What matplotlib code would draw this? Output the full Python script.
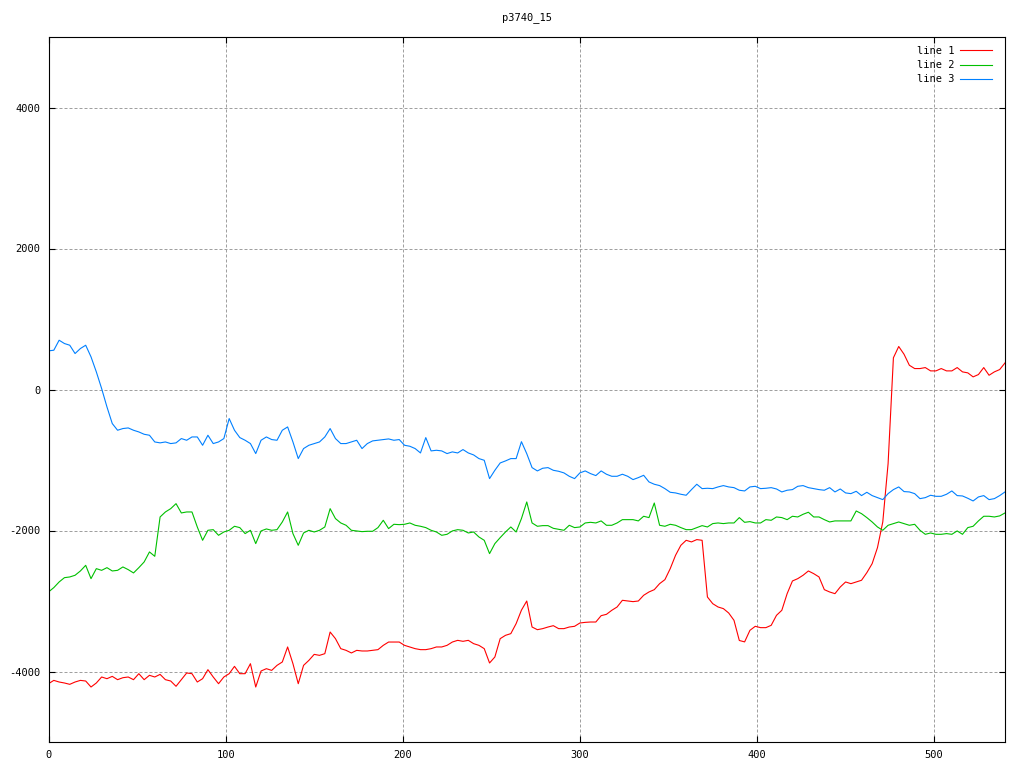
import numpy as np
import pandas as pd
import matplotlib
matplotlib.use("Agg")
from matplotlib import pyplot as plt

# sampled every 3 steps along x (0 .. 540)
x_vals = np.arange(0, 541, 3)

line1 = [-4173, -4126, -4149, -4163, -4182, -4149, -4126, -4135, -4220, -4163,
         -4078, -4102, -4069, -4116, -4088, -4078, -4116, -4031, -4116, -4054,
         -4078, -4041, -4116, -4135, -4210, -4116, -4021, -4031, -4149, -4102,
         -3974, -4078, -4173, -4078, -4031, -3927, -4031, -4031, -3889, -4220,
         -3993, -3960, -3984, -3913, -3865, -3652, -3889, -4173, -3913, -3842,
         -3757, -3771, -3747, -3440, -3534, -3676, -3700, -3737, -3700, -3709,
         -3709, -3700, -3690, -3629, -3582, -3582, -3582, -3629, -3652, -3676,
         -3690, -3690, -3676, -3652, -3652, -3629, -3582, -3558, -3572, -3558,
         -3605, -3629, -3676, -3879, -3794, -3534, -3487, -3463, -3321, -3130,
         -3000, -3369, -3407, -3392, -3369, -3350, -3392, -3392, -3369, -3359,
         -3312, -3303, -3298, -3298, -3208, -3189, -3132, -3085, -2990, -3000,
         -3009, -3000, -2919, -2872, -2839, -2754, -2697, -2541, -2352, -2210,
         -2139, -2162, -2129, -2139, -2943, -3038, -3085, -3108, -3170, -3274,
         -3560, -3580, -3416, -3359, -3378, -3378, -3345, -3203, -3132, -2896,
         -2716, -2683, -2635, -2574, -2612, -2659, -2839, -2872, -2896, -2801,
         -2730, -2754, -2730, -2706, -2598, -2470, -2243, -1879, -1051, 450,
         610, 500, 344, 297, 297, 311, 264, 264, 297, 264,
         264, 311, 250, 236, 179, 212, 311, 202, 250, 283,
         377]

line2 = [-2872, -2810, -2730, -2669, -2659, -2635, -2574, -2494, -2683, -2541,
         -2565, -2527, -2574, -2565, -2517, -2555, -2602, -2527, -2446, -2304,
         -2366, -1808, -1737, -1690, -1619, -1751, -1737, -1737, -1950, -2139,
         -1997, -1988, -2068, -2021, -1997, -1940, -1959, -2044, -1997, -2186,
         -2006, -1978, -1997, -1988, -1879, -1737, -2044, -2210, -2035, -1997,
         -2021, -1997, -1950, -1690, -1831, -1893, -1926, -1997, -2006, -2016,
         -2011, -2011, -1959, -1855, -1973, -1912, -1917, -1912, -1893, -1926,
         -1940, -1959, -1997, -2021, -2068, -2054, -2006, -1988, -1997, -2035,
         -2021, -2092, -2139, -2328, -2186, -2101, -2021, -1950, -2021, -1831,
         -1595, -1893, -1940, -1931, -1931, -1969, -1983, -1997, -1926, -1959,
         -1950, -1893, -1884, -1893, -1864, -1926, -1926, -1893, -1846, -1846,
         -1846, -1864, -1798, -1817, -1610, -1926, -1940, -1912, -1926, -1959,
         -1988, -1988, -1959, -1931, -1950, -1902, -1893, -1902, -1893, -1893,
         -1817, -1884, -1874, -1893, -1893, -1846, -1855, -1808, -1817, -1846,
         -1798, -1808, -1770, -1741, -1808, -1808, -1846, -1879, -1864, -1864,
         -1864, -1864, -1723, -1761, -1817, -1879, -1950, -1997, -1926, -1902,
         -1879, -1902, -1926, -1912, -1997, -2054, -2035, -2054, -2054, -2044,
         -2054, -2006, -2054, -1959, -1940, -1864, -1798, -1798, -1808, -1793,
         -1751]

line3 = [548, 557, 699, 652, 628, 510, 581, 628, 463, 250,
         13, -247, -483, -578, -554, -545, -578, -602, -635, -649,
         -744, -757, -744, -767, -757, -696, -720, -673, -673, -791,
         -649, -767, -744, -696, -412, -578, -682, -720, -767, -909,
         -720, -673, -710, -720, -578, -531, -744, -980, -838, -791,
         -767, -744, -673, -554, -696, -767, -767, -744, -720, -838,
         -767, -729, -720, -710, -701, -720, -710, -791, -805, -838,
         -900, -682, -871, -862, -871, -909, -885, -900, -852, -900,
         -928, -980, -1004, -1264, -1146, -1042, -1013, -980, -980, -740,
         -910, -1108, -1155, -1117, -1108, -1146, -1160, -1183, -1231, -1264,
         -1183, -1155, -1193, -1221, -1155, -1202, -1231, -1231, -1202, -1231,
         -1278, -1250, -1217, -1311, -1344, -1363, -1406, -1458, -1467, -1486,
         -1500, -1420, -1344, -1406, -1401, -1406, -1382, -1363, -1382, -1392,
         -1429, -1439, -1382, -1373, -1406, -1401, -1392, -1411, -1453, -1429,
         -1420, -1373, -1363, -1392, -1406, -1420, -1429, -1392, -1453, -1411,
         -1467, -1477, -1444, -1505, -1458, -1505, -1534, -1562, -1477, -1420,
         -1382, -1448, -1453, -1477, -1548, -1534, -1500, -1515, -1515, -1486,
         -1439, -1505, -1510, -1543, -1581, -1524, -1505, -1562, -1548, -1505,
         -1453]

labels = ["line 1", "line 2", "line 3"]
colors = ["#ff0000", "#00c000", "#0080ff"]
x_ticks = [0, 100, 200, 300, 400, 500]
y_ticks = [-4000, -2000, 0, 2000, 4000]

df = pd.DataFrame({"x": x_vals, "line 1": line1, "line 2": line2, "line 3": line3})

plt.rcParams["font.family"] = "DejaVu Sans Mono"
plt.rcParams["font.size"] = 7.5
plt.rcParams["axes.unicode_minus"] = False

fig = plt.figure(figsize=(10.24, 7.68), dpi=100)
ax = fig.add_axes([48.5 / 1024, 1 - 742 / 768, (1005 - 48.5) / 1024, (742 - 37) / 768])

for name, c in zip(labels, colors):
    ax.plot(df["x"], df[name], color=c, linewidth=0.8, label=name)

ax.set_xlim(0, 540)
ax.set_ylim(-5000, 5000)
ax.set_xticks(x_ticks)
ax.set_yticks(y_ticks)
ax.grid(True, color="#a0a0a0", linestyle=(0, (3, 2)), linewidth=0.72)
ax.tick_params(direction="in", length=4.5, width=0.8, top=True, right=True,
               labelsize=7.5, pad=6)
for s in ax.spines.values():
    s.set_linewidth(0.8)
    s.set_color("black")

ax.set_title("p3740_15", fontsize=7.5, pad=12)
ax.legend(loc="upper right", bbox_to_anchor=(0.997, 1.002), frameon=False,
          markerfirst=False, handlelength=3.0, handletextpad=0.6,
          labelspacing=0.4, borderaxespad=0.6, fontsize=7.5)

fig.savefig("out.png", dpi=100)
